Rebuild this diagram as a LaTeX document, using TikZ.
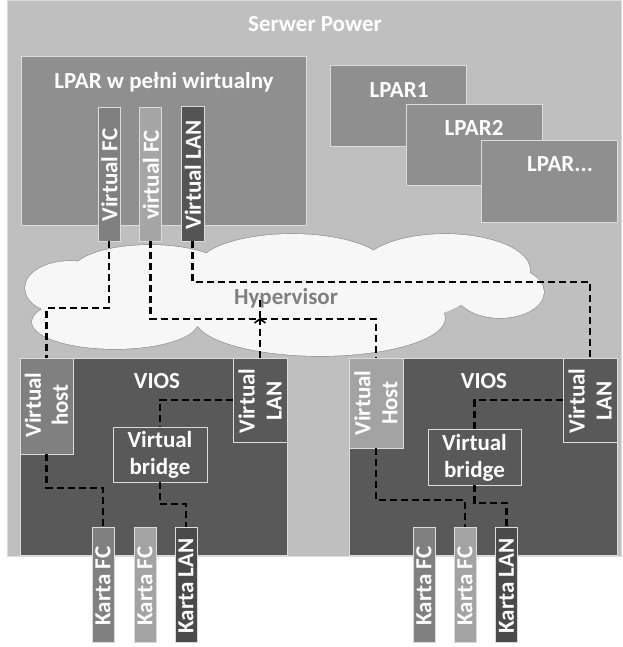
\documentclass[tikz,border=0pt]{standalone}
\usepackage{fontspec}
\setmainfont{Carlito}
\usetikzlibrary{arrows.meta}
\definecolor{outerc}{gray}{0.75}
\definecolor{edgec}{gray}{0.86}
\definecolor{lparc}{gray}{0.56}
\definecolor{fcA}{gray}{0.50}
\definecolor{fcB}{gray}{0.65}
\definecolor{lanc}{gray}{0.33}
\definecolor{viosc}{gray}{0.35}
\definecolor{hostA}{gray}{0.50}
\definecolor{hostB}{gray}{0.64}
\definecolor{kartaA}{gray}{0.50}
\definecolor{kartaB}{gray}{0.64}
\definecolor{kartaC}{gray}{0.29}
\definecolor{cloudfill}{gray}{0.97}
\definecolor{cloudline}{gray}{0.55}
\definecolor{hypc}{gray}{0.50}
\begin{document}
\begin{tikzpicture}[x=1pt,y=-1pt,
  blk/.style={rectangle, inner sep=0pt, draw=edgec, line width=0.9pt},
  lbl/.style={text=white, font=\fontsize{23}{27}\selectfont\bfseries, inner sep=0pt, align=center},
  vlbl/.style={lbl, rotate=90},
  link/.style={draw=black, line width=2.3pt, dash pattern=on 7pt off 4pt},
  cloudpart/.style={draw=cloudline, line width=1.2pt, fill=cloudfill}]
\fill[white] (0,0) rectangle (622,647);
\useasboundingbox (0,0) rectangle (622,647);
% server
\node[blk, fill=outerc, minimum width=614pt, minimum height=556pt] (server) at (314,278) {};
\node[lbl] (servert) at (315,24) {Serwer Power};
% LPAR virtual
\node[blk, fill=lparc, minimum width=285pt, minimum height=169pt] (lpar) at (163.5,140.5) {};
\node[lbl] (lpart) at (164,82) {LPAR w pełni wirtualny};
\node[blk, fill=fcA, minimum width=22pt, minimum height=134pt] (vfc1) at (109,174) {};
\node[blk, fill=fcB, minimum width=22pt, minimum height=134pt] (vfc2) at (150.5,174) {};
\node[blk, fill=lanc, minimum width=23pt, minimum height=135pt] (vlan) at (192.5,173.5) {};
\node[vlbl] (vfc1t) at (109.5,175) {Virtual FC};
\node[vlbl] (vfc2t) at (151,175) {virtual FC};
\node[vlbl] (vlant) at (193,175) {Virtual LAN};
% other LPARs
\node[blk, fill=lparc, minimum width=136pt, minimum height=81pt] (lpar1) at (398,105.5) {};
\node[lbl] (lpar1t) at (399,90) {LPAR1};
\node[blk, fill=lparc, minimum width=136pt, minimum height=81pt] (lpar2) at (474,144.5) {};
\node[lbl] (lpar2t) at (474,128) {LPAR2};
\node[blk, fill=lparc, minimum width=136pt, minimum height=82pt] (lpar3) at (549,181) {};
\node[lbl] (lpar3t) at (560,164) {LPAR...};
% cloud
\foreach \cx/\cy/\rx/\ry in {70/288/45/27, 150/272/78/27, 292/268/95/34, 445/270/85/36, 500/292/44/26, 115/322/83/27, 320/318/125/38}
  \draw[cloudpart] (\cx,\cy) ellipse [x radius=\rx, y radius=\ry];
\foreach \cx/\cy/\rx/\ry in {70/288/45/27, 150/272/78/27, 292/268/95/34, 445/270/85/36, 500/292/44/26, 115/322/83/27, 320/318/125/38, 290/292/180/40}
  \fill[cloudfill] (\cx,\cy) ellipse [x radius=\rx, y radius=\ry];
\node[lbl, text=hypc] (hyp) at (286,298) {Hypervisor};
% VIOS left
\node[blk, fill=viosc, minimum width=267pt, minimum height=197pt] (viosL) at (153.5,456.5) {};
\node[lbl] (viosLt) at (157,381) {VIOS};
\node[blk, fill=hostA, minimum width=53pt, minimum height=96pt] (vhostL) at (46.5,406) {};
\node[vlbl] (vhostLt) at (46.5,405) {Virtual\\host};
\node[blk, fill=viosc, minimum width=54pt, minimum height=84pt] (vlanL) at (260,400) {};
\node[vlbl] (vlanLt) at (260,401) {Virtual\\LAN};
\node[blk, fill=viosc, minimum width=94pt, minimum height=55pt] (bridgeL) at (160,454.5) {};
\node[lbl] (bridgeLt) at (160,455) {Virtual\\bridge};
% VIOS right
\node[blk, fill=viosc, minimum width=268pt, minimum height=197pt] (viosR) at (483,456.5) {};
\node[lbl] (viosRt) at (484,381) {VIOS};
\node[blk, fill=hostB, minimum width=54pt, minimum height=90pt] (vhostR) at (376,403) {};
\node[vlbl] (vhostRt) at (376,403) {Virtual\\Host};
\node[blk, fill=viosc, minimum width=54pt, minimum height=84pt] (vlanR) at (590,400) {};
\node[vlbl] (vlanRt) at (590,401) {Virtual\\LAN};
\node[blk, fill=viosc, minimum width=93pt, minimum height=56pt] (bridgeR) at (474.5,457) {};
\node[lbl] (bridgeRt) at (474.5,457.5) {Virtual\\bridge};
% Karta bars
\foreach \n/\x/\c/\t in {kL1/103/kartaA/Karta FC, kL2/145/kartaB/Karta FC, kL3/186/kartaC/Karta LAN,
                          kR1/424/kartaA/Karta FC, kR2/465/kartaB/Karta FC, kR3/506.5/kartaC/Karta LAN}{
  \node[blk, fill=\c, minimum width=22pt, minimum height=115pt] (\n) at (\x,584.5) {};
  \node[vlbl] (\n t) at (\x,586) {\t};
}
% connectors
\draw[link] (vfc1.south) |- (vhostL.north |- 0,308) -- (vhostL.north);
\draw[link] (vfc2.south) |- (vhostR.north |- 0,319) -- (vhostR.north);
\draw[link] (vlan.south) |- (vlanR.north |- 0,282) -- (vlanR.north);
\draw[link, -{Straight Barb[length=4pt,width=11pt,line width=1.6pt]}] (vlanL.north) -- (vlanL.north |- 0,318) coordinate (hx);
\draw[link] (hx) -- (vlanL.north |- 0,296);
\draw[link] (vlanL.west) -| (bridgeL.north);
\draw[link] (vhostL.south) |- (kL1.north |- 0,488) -- (kL1.north);
\draw[link] (bridgeL.south) |- (kL3.north |- 0,504) -- (kL3.north);
\draw[link] (vlanR.west) -| (bridgeR.north);
\draw[link] (vhostR.south) |- (kR2.north |- 0,500) -- (kR2.north);
\draw[link] (bridgeR.south) |- (kR3.north |- 0,503) -- (kR3.north);
\end{tikzpicture}
\end{document}
